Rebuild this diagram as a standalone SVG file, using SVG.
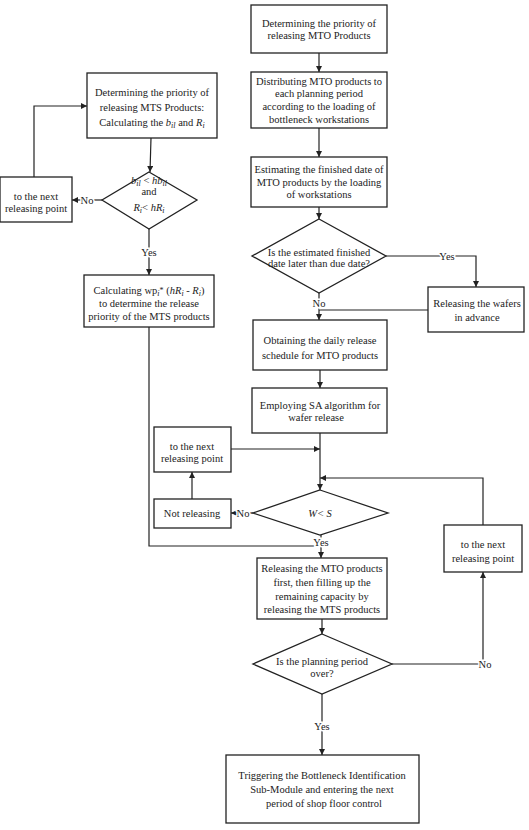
<svg xmlns="http://www.w3.org/2000/svg" width="529" height="830" viewBox="0 0 529 830">
<style>
.b{fill:#fff;stroke:#222;stroke-width:1.3}
.t{font-family:"Liberation Serif","Times New Roman",serif;font-size:10.5px;fill:#222;text-anchor:middle}
.c{fill:none;stroke:#222;stroke-width:1.2}
.l{font-family:"Liberation Serif","Times New Roman",serif;font-size:10.5px;fill:#222;text-anchor:middle;stroke:#fff;stroke-width:3;paint-order:stroke}
.i{font-style:italic}
</style>
<defs>
<marker id="a" viewBox="0 0 8 8" refX="8" refY="4" markerWidth="6" markerHeight="6" markerUnits="userSpaceOnUse" orient="auto">
<path d="M0,0 L8,4 L0,8 Z" fill="#222"/>
</marker>
</defs>
<g id="connectors">
<path class="c" d="M319,53 V72" marker-end="url(#a)"/>
<path class="c" d="M319,128 V157" marker-end="url(#a)"/>
<path class="c" d="M319,207 V219" marker-end="url(#a)"/>
<path class="c" d="M386,256 H476 V287" marker-end="url(#a)"/>
<path class="c" d="M319,293 V320" marker-end="url(#a)"/>
<path class="c" d="M428,310 H319"/>
<path class="c" d="M320,370 V388" marker-end="url(#a)"/>
<path class="c" d="M320,433 V490" marker-end="url(#a)"/>
<path class="c" d="M231,449 H320" marker-end="url(#a)"/>
<path class="c" d="M483,525 V478 H320" marker-end="url(#a)"/>
<path class="c" d="M253,513 H231" marker-end="url(#a)"/>
<path class="c" d="M192,499 V472" marker-end="url(#a)"/>
<path class="c" d="M321,534 V558" marker-end="url(#a)"/>
<path class="c" d="M149,327 V546 H321"/>
<path class="c" d="M322,619 V634" marker-end="url(#a)"/>
<path class="c" d="M392,664 H483 V572" marker-end="url(#a)"/>
<path class="c" d="M322,694 V755" marker-end="url(#a)"/>
<path class="c" d="M151,138 L150,172" marker-end="url(#a)"/>
<path class="c" d="M102,200 H72" marker-end="url(#a)"/>
<path class="c" d="M34,177 V106 H87" marker-end="url(#a)"/>
<path class="c" d="M149,229 V275" marker-end="url(#a)"/>
<text class="l" x="447" y="259.5">Yes</text>
<text class="l" x="319" y="306.5">No</text>
<text class="l" x="243" y="516.5">No</text>
<text class="l" x="321" y="545.5">Yes</text>
<text class="l" x="485" y="667.5">No</text>
<text class="l" x="322" y="729.5">Yes</text>
<text class="l" x="87" y="203.5">No</text>
<text class="l" x="149" y="255.5">Yes</text>
</g>
<g id="mto-priority">
<rect class="b" x="251" y="5" width="136" height="48"/>
<text class="t" x="319" y="27">Determining the priority of</text>
<text class="t" x="319" y="39">releasing MTO Products</text>
</g>
<g id="distributing">
<rect class="b" x="251" y="72" width="136" height="56"/>
<text class="t" x="319" y="84.5">Distributing MTO products  to</text>
<text class="t" x="319" y="97">each planning period</text>
<text class="t" x="319" y="110">according to the loading of</text>
<text class="t" x="319" y="122.5">bottleneck workstations</text>
</g>
<g id="estimating">
<rect class="b" x="251" y="157" width="136" height="50"/>
<text class="t" x="319" y="172.5">Estimating the finished date of</text>
<text class="t" x="319" y="185.5">MTO products by  the loading</text>
<text class="t" x="319" y="197.5">of workstations</text>
</g>
<g id="later-diamond">
<polygon class="b" points="319,219 386,256 319,293 252,256"/>
<text class="t" x="319" y="255.5">Is the estimated finished</text>
<text class="t" x="319" y="266.5">date later than due date?</text>
</g>
<g id="release-advance">
<rect class="b" x="428" y="287" width="96" height="45"/>
<text class="t" x="477" y="306.5">Releasing the wafers</text>
<text class="t" x="477" y="320.5">in advance</text>
</g>
<g id="obtaining">
<rect class="b" x="253" y="320" width="134" height="50"/>
<text class="t" x="320" y="343.5">Obtaining the daily release</text>
<text class="t" x="320" y="358.5">schedule for MTO products</text>
</g>
<g id="employing">
<rect class="b" x="252" y="388" width="135" height="45"/>
<text class="t" x="320" y="408.5">Employing SA algorithm for</text>
<text class="t" x="316" y="420.5">wafer release</text>
</g>
<g id="next-mid">
<rect class="b" x="154" y="427" width="77" height="45"/>
<text class="t" x="192" y="449.5">to the next</text>
<text class="t" x="192" y="461.5">releasing point</text>
</g>
<g id="not-releasing">
<rect class="b" x="154" y="499" width="77" height="29"/>
<text class="t" x="192" y="517">Not releasing</text>
</g>
<g id="ws-diamond">
<polygon class="b" points="320,490 388,513 320,535 253,513"/>
<text class="t i" x="320" y="517">W&lt; S</text>
</g>
<g id="release-mto">
<rect class="b" x="257" y="558" width="130" height="61"/>
<text class="t" x="322" y="571.5">Releasing the MTO products</text>
<text class="t" x="322" y="586">first, then filling up the</text>
<text class="t" x="322" y="599.5">remaining capacity  by</text>
<text class="t" x="322" y="612.5">releasing the MTS products</text>
</g>
<g id="next-right">
<rect class="b" x="444" y="525" width="78" height="47"/>
<text class="t" x="483" y="548">to the next</text>
<text class="t" x="483" y="562">releasing point</text>
</g>
<g id="planning-diamond">
<polygon class="b" points="322,634 392,664 322,694 253,664"/>
<text class="t" x="322" y="664.5">Is the planning period</text>
<text class="t" x="322" y="676.5">over?</text>
</g>
<g id="triggering">
<rect class="b" x="226" y="755" width="193" height="68"/>
<text class="t" x="322" y="778.5">Triggering the Bottleneck Identification</text>
<text class="t" x="322" y="792.5">Sub-Module and entering the next</text>
<text class="t" x="324" y="806.5">period of shop floor control</text>
</g>
<g id="mts-priority">
<rect class="b" x="87" y="73" width="130" height="65"/>
<text class="t" x="152" y="95.5">Determining the priority of</text>
<text class="t" x="152" y="110.5">releasing MTS Products:</text>
<text class="t" x="152" y="125.5">Calculating the <tspan class="i">b</tspan><tspan class="i" font-size="8" dy="2">il</tspan><tspan dy="-2"> and </tspan><tspan class="i">R</tspan><tspan class="i" font-size="8" dy="2">i</tspan></text>
</g>
<g id="mts-diamond">
<polygon class="b" points="149,172 197,200 149,229 102,200"/>
<text class="t" x="149" y="184"><tspan class="i">b</tspan><tspan class="i" font-size="8" dy="2">il</tspan><tspan dy="-2"> &lt; </tspan><tspan class="i">hb</tspan><tspan class="i" font-size="8" dy="2">il</tspan></text>
<text class="t" x="149" y="195">and</text>
<text class="t" x="149" y="211"><tspan class="i">R</tspan><tspan class="i" font-size="8" dy="2">i</tspan><tspan dy="-2">&lt; </tspan><tspan class="i">hR</tspan><tspan class="i" font-size="8" dy="2">i</tspan></text>
</g>
<g id="next-left">
<rect class="b" x="0" y="177" width="72" height="45"/>
<text class="t" x="36" y="199.5">to the next</text>
<text class="t" x="36" y="211.5">releasing point</text>
</g>
<g id="calculating">
<rect class="b" x="84" y="275" width="130" height="52"/>
<text class="t" x="149" y="293.5">Calculating wp<tspan class="i" font-size="8" dy="2">i</tspan><tspan font-size="8" dy="-3">*</tspan><tspan dy="1"> (</tspan><tspan class="i">hR</tspan><tspan class="i" font-size="8" dy="2">i</tspan><tspan dy="-2"> - </tspan><tspan class="i">R</tspan><tspan class="i" font-size="8" dy="2">i</tspan><tspan dy="-2">)</tspan></text>
<text class="t" x="149" y="306.5">to determine the release</text>
<text class="t" x="149" y="319.5">priority of the MTS products</text>
</g>
</svg>
